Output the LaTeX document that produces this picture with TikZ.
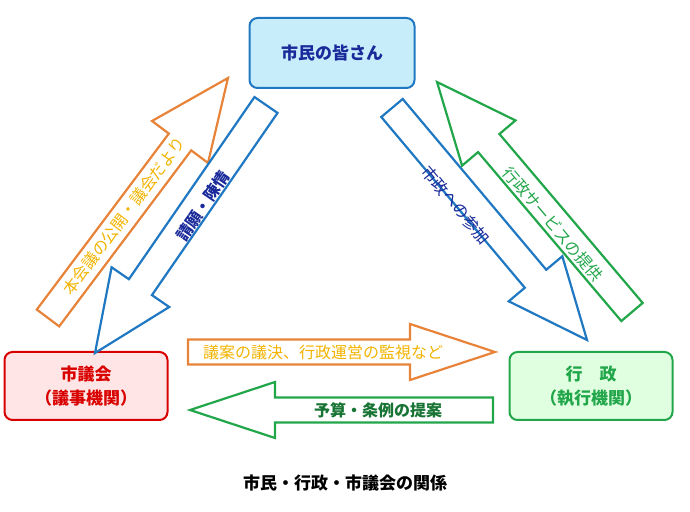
\documentclass[tikz,border=0pt]{standalone}
\usepackage{fontspec}
\setmainfont{Noto Sans CJK JP}
\usetikzlibrary{calc}

\definecolor{arrorange}{HTML}{E8833A}
\definecolor{arrblue}{HTML}{1F78C1}
\definecolor{arrgreen}{HTML}{22A64A}
\definecolor{txtgold}{HTML}{F2B400}
\definecolor{txtblue}{HTML}{1A2A9A}

\tikzset{
    citybox/.style={draw, line width=2pt, rounded corners=8pt, minimum width=163pt, minimum height=68pt, align=center, font=\fontsize{17}{24}\selectfont\bfseries},
    blockline/.style={line width=2.2pt, line join=miter, fill=white},
    arrlabel/.style={font=\fontsize{16}{18}\selectfont, inner sep=0pt}
}

% block arrow: from, to, style, shaft half width, head half width, head length
\newcommand{\blockarrow}[6]{%
    \draw[#3] let \p1=($(#2)-(#1)$), \n1={atan2(\y1,\x1)}, \n2={veclen(\x1,\y1)} in
        [shift={(#1)}, rotate=\n1]
        (0,-#4) -- ({\n2-#6},-#4) -- ({\n2-#6},-#5) -- (\n2,0) -- ({\n2-#6},#5)
        -- ({\n2-#6},#4) -- (0,#4) -- cycle;
}

\begin{document}
\begin{tikzpicture}[x=1pt, y=1pt]
    \useasboundingbox (0,0) rectangle (690,511);

    % the three parties
    \node[citybox, draw=arrblue, fill=cyan!22, text=txtblue, minimum width=165pt, minimum height=70pt] (citizens) at (332,458) {市民の皆さん};
    \node[citybox, draw=red!85!black, fill=red!10, text=red!85!black] (council) at (86,125) {市議会\\（議事機関）};
    \node[citybox, draw=arrgreen, fill=green!12, text=arrgreen] (admin) at (591,125) {行　政\\（執行機関）};

    % arrow end points
    \coordinate (orgtail) at (48,193);   \coordinate (orgtip) at (228,433);
    \coordinate (bltail) at (266,406);   \coordinate (bltip) at (95,158);
    \coordinate (brtail) at (392,403);   \coordinate (brtip) at (587,171);
    \coordinate (grtail) at (632,199);   \coordinate (grtip) at (437,429);
    \coordinate (ohtail) at (188,159);   \coordinate (ohtip) at (495,159);
    \coordinate (ghtail) at (493,101);   \coordinate (ghtip) at (190,101);

    % diagonal arrows
    \blockarrow{orgtail}{orgtip}{blockline, draw=arrorange}{14}{35}{80}
    \blockarrow{bltail}{bltip}{blockline, draw=arrblue}{14}{35}{80}
    \blockarrow{brtail}{brtip}{blockline, draw=arrblue}{14}{35}{80}
    \blockarrow{grtail}{grtip}{blockline, draw=arrgreen}{14}{35}{80}

    % horizontal arrows
    \blockarrow{ohtail}{ohtip}{blockline, draw=arrorange}{12.5}{28}{85}
    \blockarrow{ghtail}{ghtip}{blockline, draw=arrgreen}{12.5}{28}{85}

    % labels on the arrows
    \node[arrlabel, text=txtgold, rotate=53] (orglabel) at (124,295) {本会議の公開・議会だより};
    \node[arrlabel, text=txtblue, font=\fontsize{16}{18}\selectfont\bfseries, rotate=55.5] (bllabel) at (203,305) {請願・陳情};
    \node[arrlabel, text=txtblue, rotate=-50] (brlabel) at (456,306) {市政への参加};
    \node[arrlabel, text=arrgreen, rotate=-49.7] (grlabel) at (553,287) {行政サービスの提供};
    \node[arrlabel, text=txtgold] (ohlabel) at (323,159) {議案の議決、行政運営の監視など};
    \node[arrlabel, text=arrgreen!70!black, font=\fontsize{16}{18}\selectfont\bfseries] (ghlabel) at (378,101) {予算・条例の提案};

    % caption
    \node[font=\fontsize{17}{20}\selectfont\bfseries] (caption) at (345,28) {市民・行政・市議会の関係};
\end{tikzpicture}
\end{document}
